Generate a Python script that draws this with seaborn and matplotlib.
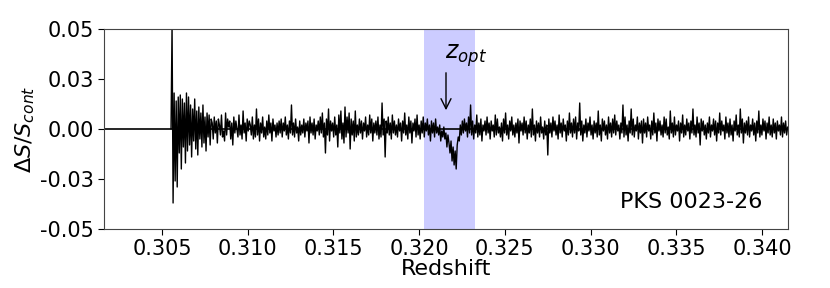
import numpy as np
import matplotlib
matplotlib.use("Agg")
import matplotlib.pyplot as plt
import seaborn as sns

# optical depth spectrum of PKS 0023-26, values in units of 1e-3
ring = [0, 52, -37, 18, -26, 14, -29, 16, -12, 17, -20, 15, -9, 13, -17, 18, -11, 16, -8, 12,
        -14, 10, -6, 15, -10, 9, -13, 11, -5, 8, -9, 12, -7, 6, -11, 8, -4, 7, -8, 5]
low_z = [3, -5, 6, -2, 4, -7, 5, 2, -3, 7, -4, -1, -6, 8, -3, 5, 1, 4, -5, 3,
         -8, 6, -2, 4, 0, -4, 7, -3, 2, -5, 9, -2, 3, -6, 5, -1, 4, 2, -3, 6,
         -5, 2, -4, 10, -3, 5, -6, 3, -2, 6, -4, 1, -5, 4, -3, 7, -2, 3, -6, 5,
         -1, 2, -4, 3, -3, 4, -2, 5, -4, 3, -1, 6, -3, 2, -5, 4, -2, 12, -3, 3,
         -4, 5, -2, 1, -6, 4, -3, 2, -2, 5, -4, 3, -1, 4, -7, 6, -2, 3, -3, 5,
         -5, 2, -1, 4, -3, 6, -2, 8, -4, 3, -12, 5, -3, 10, -6, 4, -1, 3, -4, 6,
         -3, 2, -9, 7, -2, 9, -5, 3, -7, 11, -4, 6, -2, 8, -10, 5, -3, 4, -6, 9,
         -4, 2, -3, 5, -2, 4, -5, 3, -1, 6, -4, 2, -3, 7, -2, 5, -6, 3, -2, 4,
         -3, 6, -5, 2, -4, 13, -3, 5, -14, 4, -2, 6, -3, 3, -5, 7, -2, 4, -3, 2,
         -4, 5, -1, 3, -6, 4, -2, 8, -3, 2, -5, 6, -2, 4, -7, 3, -1, 5, -4, 7,
         -3, 2, -5, 4, -2, 6, -4, 3, -1, 5, -3, 2, -6, 4, -2, 3, -4, 5, -2, 1]
absorption = [-3, 2, -6, -1, -4, 1, -5, -2, -9, -3, -7, -12, -6, -16, -9, -18, -11, -20, -8, -4,
              -6, 2, -3, 4, -2, 5, -1, 3, -4, 6, -2, 12, -3, 4, -5, 2, -2, 7, -4, 3]
high_z = [-3, 5, -6, 2, -1, 4, -3, 6, -2, 3, -5, 4, -1, 2, -4, 7, -3, 5, -2, 1,
          -4, 3, -6, 5, -2, 8, -3, 2, -5, 4, -1, 6, -3, 2, -4, 3, -2, 5, -7, 4,
          -1, 3, -3, 6, -2, 4, -5, 2, -2, 5, -4, 10, -3, 2, -6, 4, -2, 3, -4, 6,
          -2, 1, -5, 4, -3, 2, -13, 5, -2, 3, -4, 6, -1, 4, -3, 2, -5, 7, -2, 3,
          -4, 5, -1, 2, -6, 4, -3, 8, -2, 3, -4, 5, -2, 6, -5, 3, -1, 13, -3, 4,
          -6, 2, -2, 5, -4, 3, -1, 6, -3, 2, -5, 4, -2, 3, -4, 9, -3, 2, -6, 5,
          -1, 4, -3, 2, -5, 6, -2, 3, -4, 5, -2, 7, -3, 4, -1, 2, -5, 3, -2, 12,
          -4, 6, -3, 2, -6, 4, -2, 10, -3, 5, -4, 2, -1, 6, -5, 3, -2, 4, -7, 5,
          -2, 3, -4, 6, -1, 2, -5, 4, -3, 8, -2, 3, -6, 5, -1, 4, -3, 2, -4, 6,
          -2, 5, -3, 1, -5, 9, -2, 3, -4, 6, -3, 2, -1, 4, -6, 3, -2, 7, -4, 2,
          -3, 5, -1, 3, -5, 4, -2, 10, -3, 2, -4, 6, -2, 3, -8, 5, -1, 4, -3, 2,
          -5, 3, -2, 6, -4, 2, -1, 5, -3, 4, -6, 3, -2, 8, -3, 4, -1, 2, -5, 6,
          -2, 3, -4, 5, -3, 2, -6, 4, -1, 7, -3, 2, -4, 10, -2, 5, -7, 3, -2, 4,
          -3, 6, -4, 2, -1, 5, -3, 3, -6, 4, -2, 9, -4, 2, -3, 5, -1, 4, -5, 3,
          -2, 6, -3, 2, -4, 5, -2, 3, -5, 4, -1, 2, -3, 6, -4, 3, -2, 4, -3, 1]

z_first, z_last = 0.30553, 0.34150
z_opt = 0.32157
z_span = (0.32027, 0.32326)

yticks = [-0.05, -0.025, 0.0, 0.025, 0.05]
ytick_labels = ["-0.05", "-0.03", "0.00", "0.03", "0.05"]
xticks = [0.305, 0.310, 0.315, 0.320, 0.325, 0.330, 0.335, 0.340]

dS = np.array(ring + low_z + absorption + high_z) * 1e-3
z = np.linspace(z_first, z_last, len(dS))

sns.set_style("ticks")
plt.rcParams["font.family"] = ["DejaVu Sans"]
plt.rcParams["axes.unicode_minus"] = False
for key in ["text.color", "axes.labelcolor", "xtick.color", "ytick.color"]:
    plt.rcParams[key] = "black"

fig = plt.figure(figsize=(8.3, 2.88), dpi=100)
ax = fig.add_axes([0.1253, 0.2049, 0.8241, 0.6944])

ax.axvspan(z_span[0], z_span[1], color="blue", alpha=0.2, lw=0)
ax.axhline(0, color="black", lw=1.2)
sns.lineplot(x=z, y=dS, ax=ax, color="black", lw=1.0, estimator=None)

ax.annotate("", xy=(z_opt, 0.008), xytext=(z_opt, 0.0295),
            arrowprops=dict(arrowstyle="->", color="black", lw=1, mutation_scale=18))
ax.text(z_opt - 0.00005, 0.0365, "$z_{opt}$", fontsize=17, ha="left", va="center")
ax.text(0.963, 0.135, "PKS 0023-26", transform=ax.transAxes, fontsize=16,
        ha="right", va="center")

ax.set_xlim(0.30162, 0.34152)
ax.set_ylim(-0.05, 0.05)
ax.set_xticks(xticks)
ax.set_xticklabels([f"{t:.3f}" for t in xticks])
ax.set_yticks(yticks)
ax.set_yticklabels(ytick_labels)
ax.tick_params(labelsize=15, length=4)
ax.set_xlabel("Redshift", fontsize=16, labelpad=0)
ax.set_ylabel(r"$\Delta S/S_{cont}$", fontsize=16, labelpad=2)
for s in ax.spines.values():
    s.set_color("#444444")

fig.savefig("out.png", dpi=100)
